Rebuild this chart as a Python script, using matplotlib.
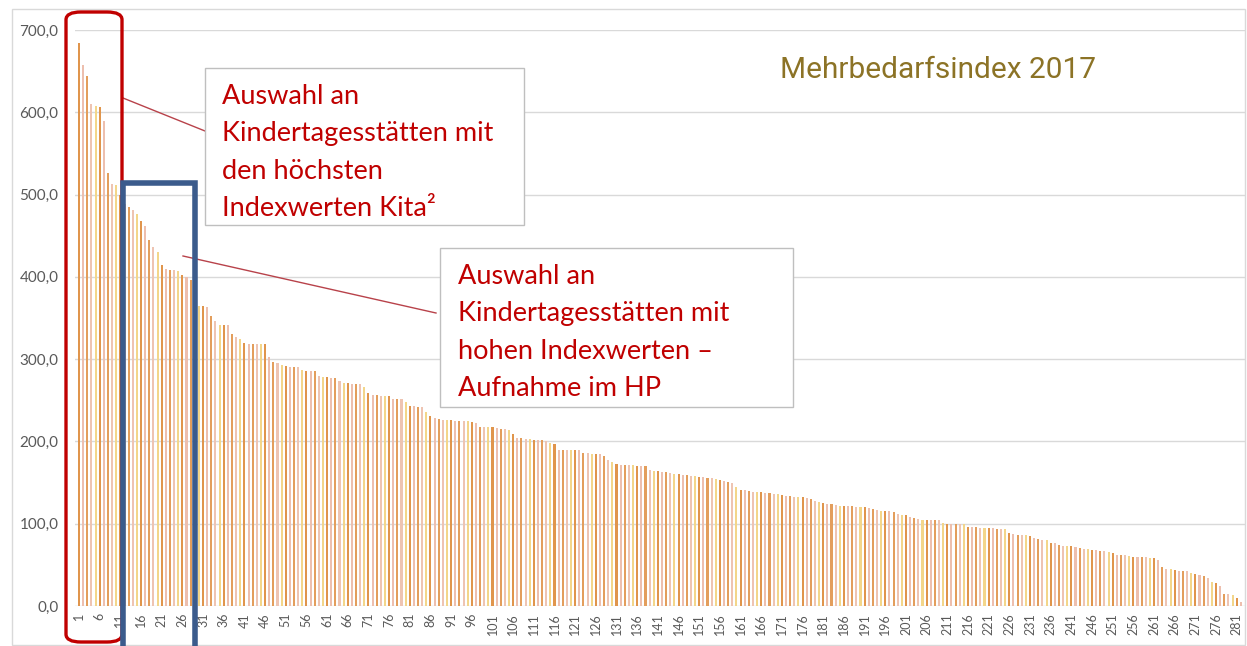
# Mehrbedarfsindex 2017 - Balkendiagramm mit Markierungen
import matplotlib
matplotlib.use('Agg')
import matplotlib.pyplot as plt
from matplotlib import font_manager
from matplotlib.patches import Rectangle, FancyBboxPatch
from matplotlib.lines import Line2D

# Indexwerte je Kita (sortiert)
werte = [
    684, 657, 644, 610, 608, 607, 590, 526, 513, 512,
    500, 488, 485, 481, 476, 468, 462, 445, 436, 430,
    415, 409, 408, 408, 407, 402, 400, 396, 390, 364,
    364, 363, 352, 346, 342, 341, 341, 330, 327, 325,
    320, 319, 319, 319, 318, 318, 302, 297, 295, 293,
    292, 291, 291, 290, 287, 286, 286, 285, 279, 278,
    278, 277, 277, 273, 271, 271, 270, 270, 270, 266,
    259, 256, 256, 255, 255, 255, 252, 252, 251, 248,
    243, 243, 242, 242, 236, 231, 229, 227, 226, 226,
    226, 225, 225, 225, 225, 224, 223, 218, 218, 217,
    217, 216, 215, 215, 214, 209, 204, 204, 203, 203,
    202, 202, 202, 201, 198, 197, 190, 190, 190, 189,
    189, 189, 186, 186, 185, 185, 185, 182, 177, 175,
    172, 171, 171, 171, 171, 170, 170, 170, 165, 164,
    164, 163, 163, 162, 161, 160, 159, 159, 158, 158,
    157, 157, 156, 155, 154, 153, 152, 151, 150, 145,
    141, 141, 140, 139, 139, 138, 137, 137, 136, 136,
    135, 134, 134, 133, 133, 132, 131, 130, 127, 126,
    125, 124, 124, 123, 122, 122, 121, 121, 120, 120,
    120, 119, 118, 117, 116, 116, 115, 114, 112, 111,
    110, 108, 107, 106, 105, 105, 104, 104, 104, 101,
    100, 100, 100, 100, 100, 96, 96, 96, 95, 95,
    95, 95, 94, 94, 94, 89, 88, 86, 86, 86,
    85, 83, 81, 80, 80, 77, 76, 74, 73, 73,
    73, 72, 70, 69, 69, 68, 68, 67, 67, 66,
    64, 62, 62, 62, 61, 60, 59, 59, 59, 58,
    58, 56, 48, 45, 45, 44, 43, 43, 42, 40,
    39, 38, 36, 34, 29, 28, 24, 15, 14, 13,
    10, 5,
]
nummern = list(range(1, len(werte) + 1))
y_ticks = [0, 100, 200, 300, 400, 500, 600, 700]
y_labels = ['0,0', '100,0', '200,0', '300,0', '400,0', '500,0', '600,0', '700,0']

titel = 'Mehrbedarfsindex 2017'
text_hoch = 'Auswahl an\nKindertagesstätten mit\nden höchsten\nIndexwerten Kita²'
text_hp = 'Auswahl an\nKindertagesstätten mit\nhohen Indexwerten –\nAufnahme im HP'

farben_zyklus = ['#E0954C', '#EDBFAE', '#E39E5C', '#EEC4B2', '#F3D68A']
farben = [farben_zyklus[i % len(farben_zyklus)] for i in range(len(werte))]

# schmale Schrift fuer den Titel, falls vorhanden
vorhanden = {f.name for f in font_manager.fontManager.ttflist}
titel_font = 'Roboto'
titel_groesse = 21.5
for kandidat in ['Liberation Sans Narrow', 'DejaVu Sans Condensed']:
    if kandidat in vorhanden:
        titel_font = kandidat
        titel_groesse = 22
        break

W, H = 1247, 646
def fx(x):
    return x / W
def fy(y):
    return 1 - y / H

fig = plt.figure(figsize=(W / 100, H / 100), dpi=100)
fig.patch.set_facecolor('white')

# Rahmen des Diagrammbereichs
fig.patches.append(Rectangle((fx(12), fy(645)), fx(1245) - fx(12), fy(9) - fy(645),
                             transform=fig.transFigure, fill=False,
                             edgecolor='#D9D9D9', linewidth=1))

ax = fig.add_axes([fx(75), fy(606), fx(1245) - fx(75), fy(30) - fy(606)])
ax.bar(nummern, werte, width=0.5, color=farben, zorder=2)
ax.set_xlim(0.03, 283)
ax.set_ylim(0, 700)
ax.set_yticks(y_ticks)
ax.set_yticklabels(y_labels)
ax.set_xticks(nummern[::5])
ax.set_xticklabels([str(n) for n in nummern[::5]], rotation=90)
ax.grid(axis='y', color='#D9D9D9', linewidth=1, zorder=0)
for s in ax.spines.values():
    s.set_visible(False)
ax.tick_params(axis='y', length=0, pad=12, labelsize=11, labelcolor='#595959')
ax.tick_params(axis='x', length=0, pad=5, labelsize=9, labelcolor='#595959')
for lab in ax.get_yticklabels() + ax.get_xticklabels():
    lab.set_family(['Lato', 'DejaVu Sans'])

fig.text(fx(938), fy(70), titel, color='#8C7326', fontsize=titel_groesse,
         family=[titel_font, 'DejaVu Sans'], ha='center', va='center')

# Verbindungslinien
fig.lines.append(Line2D([fx(123), fx(205)], [fy(98), fy(131)], transform=fig.transFigure,
                        color='#B8424A', linewidth=1))
fig.lines.append(Line2D([fx(183), fx(436)], [fy(256), fy(313)], transform=fig.transFigure,
                        color='#B8424A', linewidth=1))

# Textboxen
fig.patches.append(Rectangle((fx(205), fy(225)), fx(524) - fx(205), fy(68) - fy(225),
                             transform=fig.transFigure, facecolor='white',
                             edgecolor='#BFBFBF', linewidth=1, zorder=5))
fig.text(fx(222), fy(84), text_hoch, color='#C00000', fontsize=19.5,
         family=['Lato', 'DejaVu Sans'], ha='left', va='top', linespacing=1.62, zorder=6)

fig.patches.append(Rectangle((fx(440), fy(407)), fx(793) - fx(440), fy(248) - fy(407),
                             transform=fig.transFigure, facecolor='white',
                             edgecolor='#BFBFBF', linewidth=1, zorder=5))
fig.text(fx(458), fy(264), text_hp, color='#C00000', fontsize=19.5,
         family=['Lato', 'DejaVu Sans'], ha='left', va='top', linespacing=1.62, zorder=6)

# Markierungsrahmen
fig.patches.append(FancyBboxPatch((fx(66), fy(642)), fx(122) - fx(66), fy(12) - fy(642),
                                  boxstyle='round,pad=0,rounding_size=0.012',
                                  transform=fig.transFigure, fill=False,
                                  edgecolor='#C00000', linewidth=2.4, zorder=7))
fig.patches.append(Rectangle((fx(123), fy(650)), fx(195) - fx(123), fy(183) - fy(650),
                             transform=fig.transFigure, fill=False,
                             edgecolor='#3B5B8C', linewidth=4, zorder=8))

fig.savefig('out.png', dpi=100)
